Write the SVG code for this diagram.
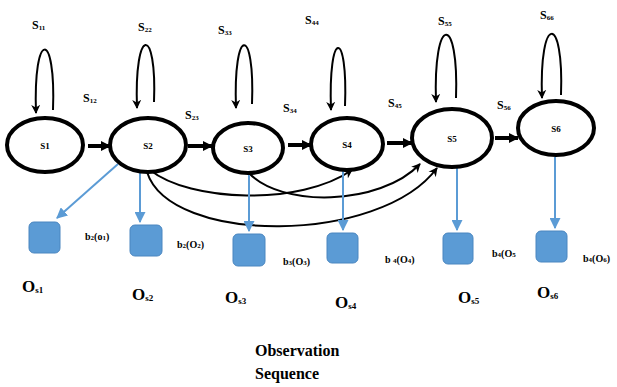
<svg xmlns="http://www.w3.org/2000/svg" width="617" height="387" viewBox="0 0 617 387">
<style>
text{font-family:"Liberation Serif","Times New Roman",serif;font-weight:bold;fill:#000}
.st{fill:#fff;stroke:#000;stroke-width:4}
.loop{fill:none;stroke:#000;stroke-width:2}
.thick{fill:none;stroke:#000;stroke-width:4}
.curve{fill:none;stroke:#000;stroke-width:2}
.blue{fill:none;stroke:#5B9BD5;stroke-width:2}
.obs{fill:#5B9BD5;stroke:#4A86C0;stroke-width:1}
.lbl{font-size:12px}
.in{font-size:9px;text-anchor:middle}
.b{font-size:10px}
.o{font-size:17px}
.t{font-size:16px}
</style>
<defs>
<marker id="ah" viewBox="0 0 10 10" refX="9" refY="5" markerWidth="9" markerHeight="10" markerUnits="userSpaceOnUse" orient="auto"><path d="M0,0 L10,5 L0,10 L3,5 Z" fill="#000"/></marker>
<marker id="ahT" viewBox="0 0 10 10" refX="9" refY="5" markerWidth="10" markerHeight="12" markerUnits="userSpaceOnUse" orient="auto"><path d="M0,0 L10,5 L0,10 Z" fill="#000"/></marker>
<marker id="ahB" viewBox="0 0 10 10" refX="9" refY="5" markerWidth="11" markerHeight="11" markerUnits="userSpaceOnUse" orient="auto"><path d="M0,0 L10,5 L0,10 Z" fill="#5B9BD5"/></marker>
</defs>

<g id="connectors">
<!-- self loops -->
<path class="loop" marker-end="url(#ah)" d="M53,110 C56,29 33,29 36,113"/>
<path class="loop" marker-end="url(#ah)" d="M154,102 C157,25 134,25 137,108"/>
<path class="loop" marker-end="url(#ah)" d="M252,104 C255,25 233,25 236,108"/>
<path class="loop" marker-end="url(#ah)" d="M345,106 C348,28 328,28 331,110"/>
<path class="loop" marker-end="url(#ah)" d="M456,98 C459,13 433,13 436,102"/>
<path class="loop" marker-end="url(#ah)" d="M561,95 C564,13 539,13 542,98"/>
<!-- forward transitions -->
<path class="thick" marker-end="url(#ahT)" d="M88,146 L110,146"/>
<path class="thick" marker-end="url(#ahT)" d="M188,146 L212,146"/>
<path class="thick" marker-end="url(#ahT)" d="M288,145 L311,145"/>
<path class="thick" marker-end="url(#ahT)" d="M387,143 L412,143"/>
<path class="thick" marker-end="url(#ahT)" d="M495,138 L518,138"/>
<!-- skip transitions -->
<path class="curve" marker-end="url(#ah)" d="M150,170 C190,202 300,206 352,170"/>
<path class="curve" marker-end="url(#ah)" d="M248,172 C280,208 380,206 420,164"/>
<path class="curve" marker-end="url(#ah)" d="M147,172 C170,245 380,245 437,168"/>
<!-- emissions -->
<path class="blue" marker-end="url(#ahB)" d="M118,164 L57,218"/>
<path class="blue" marker-end="url(#ahB)" d="M140,168 L140,222"/>
<path class="blue" marker-end="url(#ahB)" d="M249,173 L249,231"/>
<path class="blue" marker-end="url(#ahB)" d="M343,171 L343,230"/>
<path class="blue" marker-end="url(#ahB)" d="M457,168 L457,230"/>
<path class="blue" marker-end="url(#ahB)" d="M555,157 L555,228"/>
</g>

<g id="s1"><ellipse class="st" cx="45" cy="145" rx="38" ry="27"/><text class="in" x="45" y="149">S1</text></g>
<g id="s2"><ellipse class="st" cx="148" cy="145" rx="38" ry="27"/><text class="in" x="148" y="149">S2</text></g>
<g id="s3"><ellipse class="st" cx="248" cy="148" rx="35" ry="25"/><text class="in" x="248" y="152">S3</text></g>
<g id="s4"><ellipse class="st" cx="347" cy="144" rx="36" ry="26"/><text class="in" x="347" y="148">S4</text></g>
<g id="s5"><ellipse class="st" cx="452" cy="138" rx="40" ry="29"/><text class="in" x="452" y="142">S5</text></g>
<g id="s6"><ellipse class="st" cx="556" cy="128" rx="38" ry="27"/><text class="in" x="556" y="132">S6</text></g>

<g id="labels">
<text class="lbl" x="32" y="29">S<tspan font-size="7" dy="1">11</tspan></text>
<text class="lbl" x="138" y="31">S<tspan font-size="7" dy="1">22</tspan></text>
<text class="lbl" x="218" y="34">S<tspan font-size="7" dy="1">33</tspan></text>
<text class="lbl" x="305" y="24">S<tspan font-size="7" dy="1">44</tspan></text>
<text class="lbl" x="438" y="25">S<tspan font-size="7" dy="1">55</tspan></text>
<text class="lbl" x="540" y="19">S<tspan font-size="7" dy="1">66</tspan></text>
<text class="lbl" x="83" y="102">S<tspan font-size="7" dy="1">12</tspan></text>
<text class="lbl" x="185" y="119">S<tspan font-size="7" dy="1">23</tspan></text>
<text class="lbl" x="283" y="112">S<tspan font-size="7" dy="1">34</tspan></text>
<text class="lbl" x="388" y="107">S<tspan font-size="7" dy="1">45</tspan></text>
<text class="lbl" x="497" y="109">S<tspan font-size="7" dy="1">56</tspan></text>
</g>

<g id="o1"><rect class="obs" x="29" y="222" width="31" height="31" rx="5"/><text class="b" x="85" y="240">b<tspan font-size="7">2</tspan>(o<tspan font-size="7">1</tspan>)</text><text class="o" x="22" y="292">O<tspan font-size="9" dy="1">s1</tspan></text></g>
<g id="o2"><rect class="obs" x="130" y="225" width="32" height="31" rx="5"/><text class="b" x="177" y="248">b<tspan font-size="7">2</tspan>(O<tspan font-size="7">2</tspan>)</text><text class="o" x="132" y="300">O<tspan font-size="9" dy="1">s2</tspan></text></g>
<g id="o3"><rect class="obs" x="233" y="234" width="32" height="32" rx="5"/><text class="b" x="283" y="265">b<tspan font-size="7">3</tspan>(O<tspan font-size="7">3</tspan>)</text><text class="o" x="225" y="303">O<tspan font-size="9" dy="1">s3</tspan></text></g>
<g id="o4"><rect class="obs" x="327" y="233" width="31" height="30" rx="5"/><text class="b" x="385" y="263">b <tspan font-size="7">4</tspan>(O<tspan font-size="7">4</tspan>)</text><text class="o" x="335" y="308">O<tspan font-size="9" dy="1">s4</tspan></text></g>
<g id="o5"><rect class="obs" x="443" y="233" width="30" height="31" rx="5"/><text class="b" x="492" y="257">b<tspan font-size="7">4</tspan>(O<tspan font-size="7">5</tspan></text><text class="o" x="458" y="303">O<tspan font-size="9" dy="1">s5</tspan></text></g>
<g id="o6"><rect class="obs" x="536" y="231" width="31" height="31" rx="5"/><text class="b" x="583" y="262">b<tspan font-size="7">4</tspan>(O<tspan font-size="7">6</tspan>)</text><text class="o" x="537" y="298">O<tspan font-size="9" dy="1">s6</tspan></text></g>

<g id="title"><text class="t" x="255" y="356">Observation</text><text class="t" x="255" y="379">Sequence</text></g>
</svg>
